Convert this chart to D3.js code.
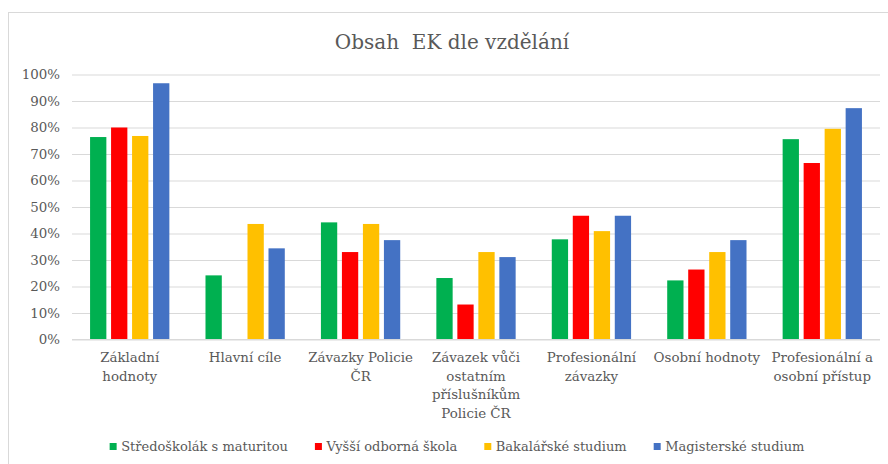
<!DOCTYPE html>
<html>
<head>
<meta charset="utf-8">
<script src="https://cdn.jsdelivr.net/npm/d3@7"></script>
<style>
  body { margin: 0; background: #fff; }
  svg text { font-family: "DejaVu Serif", "Liberation Serif", "Times New Roman", serif; }
</style>
</head>
<body>
<div id="chart"></div>
<script>
const title = "Obsah  EK dle vzdělání";

const categories = [
  "Základní hodnoty",
  "Hlavní cíle",
  "Závazky Policie ČR",
  "Závazek vůči ostatním příslušníkům Policie ČR",
  "Profesionální závazky",
  "Osobní hodnoty",
  "Profesionální a osobní přístup"
];

const seriesNames = [
  "Středoškolák s maturitou",
  "Vyšší odborná škola",
  "Bakalářské studium",
  "Magisterské studium"
];

const seriesColors = ["#00b050", "#ff0000", "#ffc000", "#4472c4"];

// values per series, one per category
const stredoskolak = [0.764, 0.242, 0.442, 0.232, 0.378, 0.223, 0.756];
const vyssiOdborna = [0.800, 0, 0.330, 0.132, 0.467, 0.264, 0.666];
const bakalarske = [0.768, 0.436, 0.436, 0.330, 0.409, 0.330, 0.795];
const magisterske = [0.967, 0.344, 0.375, 0.311, 0.467, 0.375, 0.873];

const yTicks = [0, 0.1, 0.2, 0.3, 0.4, 0.5, 0.6, 0.7, 0.8, 0.9, 1];

const seriesValues = [stredoskolak, vyssiOdborna, bakalarske, magisterske];

const width = 888, height = 464;
const margin = {top: 74.5, right: 8, bottom: 124.5, left: 72};
const textColor = "#595959";
const gridColor = "#d9d9d9";
const fontSize = 13.4;

const svg = d3.select("#chart")
  .append("svg")
    .attr("width", width)
    .attr("height", height);

// chart frame (cut off on the right and bottom like the picture)
svg.append("rect")
  .attr("x", 8.5)
  .attr("y", 12.5)
  .attr("width", 900)
  .attr("height", 480)
  .attr("fill", "none")
  .attr("stroke", gridColor);

svg.append("text")
  .attr("x", 452)
  .attr("y", 49)
  .attr("text-anchor", "middle")
  .attr("font-size", 20)
  .attr("fill", textColor)
  .style("white-space", "pre")
  .text(title);

const x0 = d3.scaleBand()
  .domain(categories)
  .range([margin.left, width - margin.right]);

const groupWidth = x0.bandwidth() * 0.687;

const x1 = d3.scaleBand()
  .domain(seriesNames)
  .range([0, groupWidth])
  .paddingInner(0.224);

const y = d3.scaleLinear()
  .domain([0, 1])
  .range([height - margin.bottom, margin.top]);

// gridlines + y labels
const yAxis = d3.axisLeft(y)
  .tickValues(yTicks)
  .tickFormat(d3.format(".0%"))
  .tickSize(-(width - margin.right - margin.left))
  .tickPadding(12);

const yg = svg.append("g")
  .attr("transform", `translate(${margin.left},0)`)
  .call(yAxis)
  .attr("font-family", null);
yg.select(".domain").remove();
yg.selectAll(".tick line").attr("stroke", gridColor);
yg.selectAll(".tick text")
  .attr("fill", textColor)
  .attr("font-size", fontSize);

// bars
const rows = categories.map((c, i) => ({
  category: c,
  values: seriesNames.map((s, j) => ({series: s, color: seriesColors[j], value: seriesValues[j][i]}))
}));

svg.append("g")
  .selectAll("g")
  .data(rows)
  .enter().append("g")
    .attr("transform", d => `translate(${x0(d.category) + (x0.bandwidth() - groupWidth) / 2},0)`)
  .selectAll("rect")
  .data(d => d.values.filter(v => v.value > 0))
  .enter().append("rect")
    .attr("x", d => x1(d.series))
    .attr("y", d => y(d.value))
    .attr("width", x1.bandwidth())
    .attr("height", d => y(0) - y(d.value))
    .attr("fill", d => d.color);

// category axis line
svg.append("line")
  .attr("x1", margin.left)
  .attr("x2", width - margin.right)
  .attr("y1", y(0))
  .attr("y2", y(0))
  .attr("stroke", gridColor);

// wrapped category labels
const wrapWidth = 108, lineHeight = 18.5;
const catLabels = svg.append("g")
  .selectAll("text")
  .data(categories)
  .enter().append("text")
    .attr("x", d => x0(d) + x0.bandwidth() / 2)
    .attr("y", 362)
    .attr("text-anchor", "middle")
    .attr("font-size", fontSize)
    .attr("fill", textColor);

catLabels.each(function(d) {
  const text = d3.select(this);
  const words = d.split(" ");
  let line = [];
  let tspan = text.append("tspan").attr("x", text.attr("x")).attr("dy", 0);
  words.forEach((w) => {
    line.push(w);
    tspan.text(line.join(" "));
    if (tspan.node().getComputedTextLength() > wrapWidth && line.length > 1) {
      line.pop();
      tspan.text(line.join(" "));
      line = [w];
      tspan = text.append("tspan")
        .attr("x", text.attr("x"))
        .attr("dy", lineHeight)
        .text(w);
    }
  });
});

// legend, centred under the chart
const legendGap = 27;
const legend = svg.append("g");
const items = legend.selectAll("g")
  .data(seriesNames)
  .enter().append("g");

items.append("rect")
  .attr("width", 7)
  .attr("height", 7)
  .attr("y", 443)
  .attr("fill", (d, i) => seriesColors[i]);

items.append("text")
  .attr("x", 11.5)
  .attr("y", 451)
  .attr("font-size", 13)
  .attr("fill", textColor)
  .text(d => d);

let offset = 0;
items.each(function() {
  const g = d3.select(this);
  g.attr("transform", `translate(${offset},0)`);
  offset += 11.5 + g.select("text").node().getComputedTextLength() + legendGap;
});
const legendWidth = offset - legendGap;
legend.attr("transform", `translate(${457 - legendWidth / 2},0)`);
</script>
</body>
</html>
